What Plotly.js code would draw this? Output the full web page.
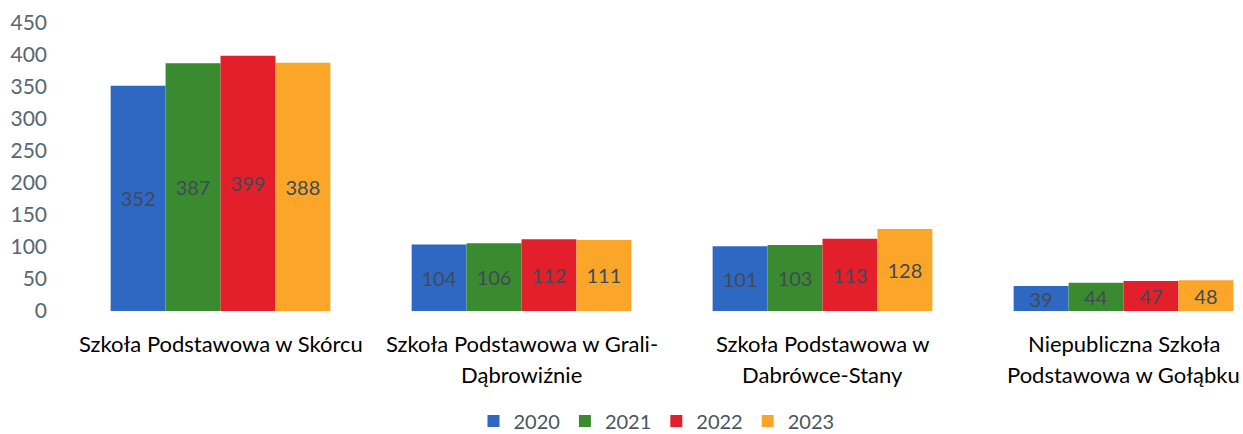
<!DOCTYPE html>
<html><head><meta charset="utf-8">
<script src="https://cdn.plot.ly/plotly-3.0.1.min.js"></script>
<style>html,body{margin:0;padding:0;background:#fff}#chart{width:1243px;height:434px}</style>
</head><body><div id="chart"></div>
<script>
const categories = ["Szkoła Podstawowa w Skórcu", "Szkoła Podstawowa w Grali-Dąbrowiźnie", "Szkoła Podstawowa w Dabrówce-Stany", "Niepubliczna Szkoła Podstawowa w Gołąbku"];
const labelLine1 = ["Szkoła Podstawowa w Skórcu", "Szkoła Podstawowa w Grali-", "Szkoła Podstawowa w", "Niepubliczna Szkoła"];
const labelLine2 = ["", "Dąbrowiźnie", "Dabrówce-Stany", "Podstawowa w Gołąbku"];
const years = ["2020", "2021", "2022", "2023"];
const v2020 = [352, 104, 101, 39];
const v2021 = [387, 106, 103, 44];
const v2022 = [399, 112, 113, 47];
const v2023 = [388, 111, 128, 48];
const yTicks = [0, 50, 100, 150, 200, 250, 300, 350, 400, 450];

const series = [v2020, v2021, v2022, v2023];
const colors = ['#2f68c2', '#3a8a2f', '#e21f2b', '#fca629'];
const FONT = 'Lato, "Open Sans", sans-serif';

const traces = series.map((vals, i) => ({
  type: 'bar', name: years[i], x: categories, y: vals,
  marker: {color: colors[i], line: {width: 0}},
  text: vals.map(String), textposition: 'inside', insidetextanchor: 'middle', textangle: 0,
  textfont: {family: FONT, size: 20, color: '#404a55'},
  constraintext: 'none', cliponaxis: false, hoverinfo: 'skip'
}));

const annotations = [];
categories.forEach((c, i) => {
  annotations.push({x: c, xref: 'x', y: 0, yref: 'y', yanchor: 'top', yshift: -17,
    text: labelLine1[i], showarrow: false, font: {family: FONT, size: 22, color: '#000'}});
  if (labelLine2[i]) annotations.push({x: c, xref: 'x', y: 0, yref: 'y', yanchor: 'top', yshift: -48,
    text: labelLine2[i], showarrow: false, font: {family: FONT, size: 22, color: '#000'}});
});

const layout = {
  width: 1243, height: 434,
  margin: {l: 70, r: 0, t: 23, b: 123, autoexpand: false},
  paper_bgcolor: '#fff', plot_bgcolor: '#fff',
  barmode: 'group', bargap: 0.27, bargroupgap: 0,
  uniformtext: {mode: 'show', minsize: 20},
  xaxis: {type: 'category', range: [-0.5, 3.397], showticklabels: false, showgrid: false, zeroline: false, showline: false, fixedrange: true, automargin: false},
  yaxis: {range: [0, 450], tickvals: yTicks, ticktext: yTicks.map(String), showgrid: false, zeroline: false, showline: false, automargin: false,
    tickfont: {family: FONT, size: 21, color: '#5a6570'}, ticklabelstandoff: 22},
  legend: {orientation: 'h', x: 0.5, xanchor: 'center', y: -0.382, yanchor: 'middle',
    font: {family: FONT, size: 20, color: '#4a5560'}, itemwidth: 30, traceorder: 'normal'},
  annotations: annotations,
  showlegend: true
};
Plotly.newPlot('chart', traces, layout, {displayModeBar: false, staticPlot: true});
</script></body></html>
